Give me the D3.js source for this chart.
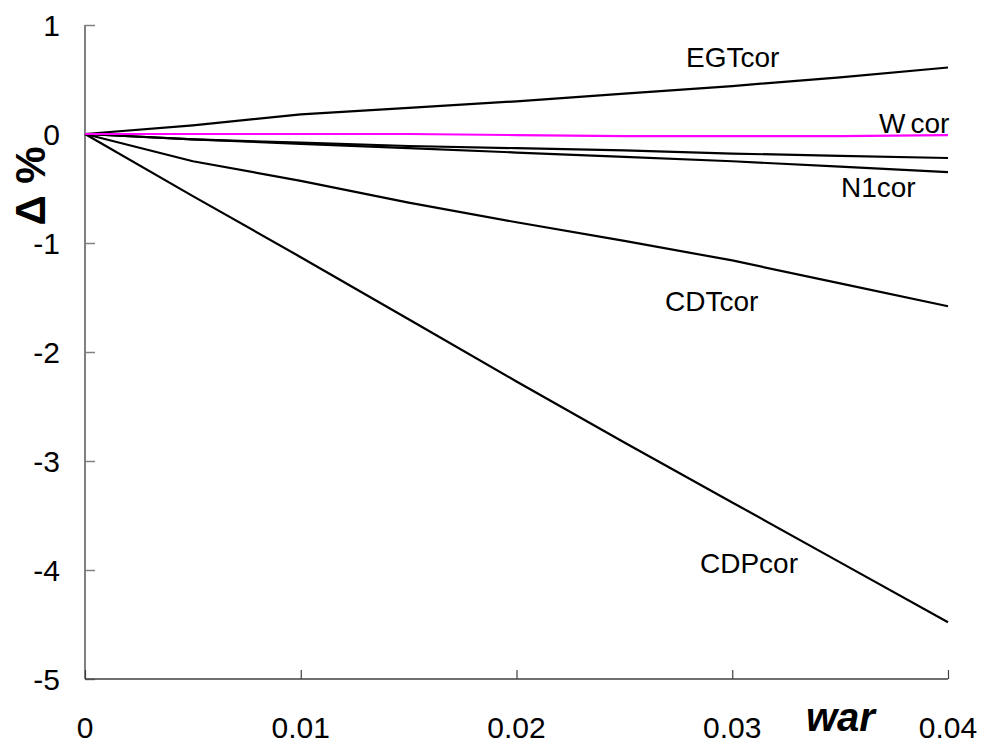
<!DOCTYPE html>
<html>
<head>
<meta charset="utf-8">
<script src="https://cdn.jsdelivr.net/npm/d3@7"></script>
<style>
  html, body { margin: 0; padding: 0; background: #fff; }
  svg { display: block; font-family: "Liberation Sans", Arial, sans-serif; }
</style>
</head>
<body>
<svg id="chart" width="981" height="743"></svg>
<script>
// war values (x) shared by every series
const warValues = [0, 0.005, 0.01, 0.015, 0.02, 0.025, 0.03, 0.035, 0.04];

// Δ% for each corrected parameter
const egtcor = [0, 0.08, 0.18, 0.24, 0.30, 0.37, 0.44, 0.52, 0.61];
const wcor   = [0, 0, 0, 0, -0.01, -0.02, -0.02, -0.02, -0.01];
const aux    = [0, -0.05, -0.08, -0.11, -0.13, -0.15, -0.18, -0.20, -0.22];
const n1cor  = [0, -0.05, -0.09, -0.13, -0.17, -0.21, -0.25, -0.30, -0.35];
const cdtcor = [0, -0.25, -0.43, -0.63, -0.81, -0.98, -1.16, -1.37, -1.58];
const cdpcor = [0, -0.57, -1.13, -1.70, -2.27, -2.83, -3.38, -3.93, -4.48];

const xTicks = [0, 0.01, 0.02, 0.03, 0.04];
const xTickLabels = ["0", "0.01", "0.02", "0.03", "0.04"];
const yTicks = [1, 0, -1, -2, -3, -4, -5];
const yTickLabels = ["1", "0", "-1", "-2", "-3", "-4", "-5"];

const svg = d3.select("#chart");

const x = d3.scaleLinear().domain([0, 0.04]).range([85, 948]);
const y = d3.scaleLinear().domain([-5, 1]).range([679, 25]);

// Y axis: ticks pointing inward
const yAxis = svg.append("g")
  .attr("transform", `translate(${x(0)},0)`)
  .call(d3.axisRight(y).tickValues(yTicks).tickSize(10).tickFormat(""));
yAxis.select(".domain").attr("stroke", "#808080").attr("stroke-width", 2).attr("d", `M0,${y(1)}V${y(-5)}`);
yAxis.selectAll(".tick line").attr("stroke", "#808080").attr("stroke-width", 1.5);

// Y tick labels
svg.append("g").selectAll("text")
  .data(yTicks)
  .join("text")
  .attr("x", 60)
  .attr("y", d => y(d))
  .attr("dy", "0.36em")
  .attr("text-anchor", "end")
  .attr("font-size", 30)
  .attr("fill", "#000")
  .text((d, i) => yTickLabels[i]);

// X axis: ticks pointing up into the plot
const xAxis = svg.append("g")
  .attr("transform", `translate(0,${y(-5)})`)
  .call(d3.axisTop(x).tickValues(xTicks).tickSize(9).tickFormat(""));
xAxis.select(".domain").attr("stroke", "#404040").attr("stroke-width", 1.5).attr("d", `M${x(0)},0H${x(0.04)}`);
xAxis.selectAll(".tick line").attr("stroke", "#404040").attr("stroke-width", 1.2);

// X tick labels
svg.append("g").selectAll("text")
  .data(xTicks)
  .join("text")
  .attr("x", d => x(d))
  .attr("y", 738)
  .attr("text-anchor", "middle")
  .attr("font-size", 30)
  .attr("fill", "#000")
  .text((d, i) => xTickLabels[i]);

// Axis titles
svg.append("text")
  .attr("x", 806)
  .attr("y", 731)
  .attr("font-size", 40)
  .attr("font-weight", "bold")
  .attr("font-style", "italic")
  .attr("fill", "#000")
  .text("war");

svg.append("text")
  .attr("transform", "translate(45,186) rotate(-90)")
  .attr("text-anchor", "middle")
  .attr("font-size", 42)
  .attr("font-weight", "bold")
  .attr("fill", "#000")
  .text("Δ %");

// Series lines
const line = d3.line()
  .x((d, i) => x(warValues[i]))
  .y(d => y(d));

const series = [
  { values: cdpcor, color: "#000" },
  { values: cdtcor, color: "#000" },
  { values: n1cor,  color: "#000" },
  { values: aux,    color: "#000" },
  { values: egtcor, color: "#000" },
  { values: wcor,   color: "#ff00ff" }
];

svg.append("g").selectAll("path")
  .data(series)
  .join("path")
  .attr("d", d => line(d.values))
  .attr("fill", "none")
  .attr("stroke", d => d.color)
  .attr("stroke-width", 2.2)
  .attr("stroke-linejoin", "round");

// Series labels
const seriesLabels = [
  { text: "EGTcor", x: 686, y: 67 },
  { text: "N1cor",  x: 841, y: 197 },
  { text: "CDTcor", x: 665, y: 311 },
  { text: "CDPcor", x: 700, y: 573 }
];
svg.append("g").selectAll("text")
  .data(seriesLabels)
  .join("text")
  .attr("x", d => d.x)
  .attr("y", d => d.y)
  .attr("font-size", 28)
  .attr("fill", "#000")
  .text(d => d.text);

const wLabel = svg.append("text")
  .attr("x", 879)
  .attr("y", 133)
  .attr("font-size", 28)
  .attr("fill", "#000");
wLabel.append("tspan").text("W");
wLabel.append("tspan").attr("dx", 5).text("cor");
</script>
</body>
</html>
